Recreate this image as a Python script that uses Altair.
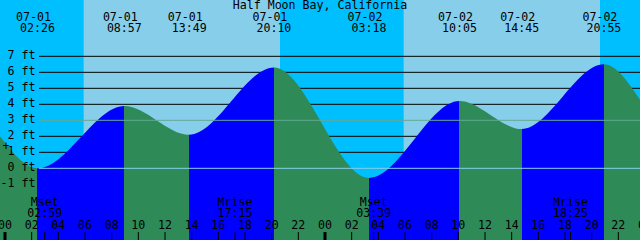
import altair as alt
import pandas as pd

# ---------------- data ----------------
title_text = "Half Moon Bay, California"

# tide extremes (day index 0 = 07-01, 1 = 07-02)
ext_days = [0, 0, 0, 0, 1, 1, 1, 1]
ext_dates = ["07-01", "07-01", "07-01", "07-01", "07-02", "07-02", "07-02", "07-02"]
ext_times = ["02:26", "08:57", "13:49", "20:10", "03:18", "10:05", "14:45", "20:55"]
ext_ft = [0.0, 3.9, 2.1, 6.3, -0.6, 4.2, 2.45, 6.5]

# tide level read at the left and right edges of the picture
edge_hours = [-0.375, 47.625]
edge_ft = [2.0, 4.3]

# sun
sun_days = [0, 1]
sunrise = ["05:55", "05:55"]
sunset = ["20:37", "20:37"]

# moon
moon_days = [0, 0, 1, 1]
moon_labels = ["Mset", "Mrise", "Mset", "Mrise"]
moon_times = ["02:59", "17:15", "03:39", "18:25"]

depth_levels = [7, 6, 5, 4, 3, 2, 1, 0, -1]
black_levels = [7, 6, 5, 4, 2, 1, -1]
datum_level = [0]
msl_level = [3]
hour_marks = list(range(0, 50, 2))
marker_hours = [0.07]
marker_ft = [1.36]

y_domain = [-4.48, 10.52]

FONT = "DejaVu Sans Mono"
FS = 11.6
DAY_C, NIGHT_C = "#87ceeb", "#00bfff"
FLOOD_C, EBB_C = "#0000ff", "#2e8b57"


def hrs(day, t):
    hh, mm = t.split(":")
    return day * 24 + int(hh) + int(mm) / 60


x0, x1 = edge_hours
xs = alt.Scale(domain=[x0, x1], nice=False, zero=False)
ys = alt.Scale(domain=y_domain, nice=False, zero=False)

# background bands
rise_h = [hrs(d, t) for d, t in zip(sun_days, sunrise)]
set_h = [hrs(d, t) for d, t in zip(sun_days, sunset)]
bands = pd.DataFrame({
    "start": [x0, rise_h[0], set_h[0], rise_h[1], set_h[1]],
    "end": [rise_h[0], set_h[0], rise_h[1], set_h[1], x1],
    "kind": ["night", "day", "night", "day", "night"],
})
bg = alt.Chart(bands).mark_rect().encode(
    x=alt.X("start:Q", scale=xs, axis=None),
    x2="end:Q",
    y=alt.value(0), y2=alt.value(240),
    color=alt.Color("kind:N", scale=alt.Scale(domain=["day", "night"], range=[DAY_C, NIGHT_C]), legend=None),
)

grid = alt.Chart(pd.DataFrame({"lv": black_levels})).mark_rule(color="black", strokeWidth=1).encode(
    y=alt.Y("lv:Q", scale=ys, axis=None), x=alt.value(39), x2=alt.value(640)
)

# tide curve
ext_h = [hrs(d, t) for d, t in zip(ext_days, ext_times)]
tide_h = [edge_hours[0]] + ext_h + [edge_hours[1]]
tide_v = [edge_ft[0]] + ext_ft + [edge_ft[1]]
tide = pd.DataFrame({"h": tide_h, "ft": tide_v})

stops = []
for i in range(len(tide_h) - 1):
    c = FLOOD_C if tide_v[i + 1] > tide_v[i] else EBB_C
    o0 = (tide_h[i] - x0) / (x1 - x0)
    o1 = (tide_h[i + 1] - x0) / (x1 - x0)
    stops.append(alt.GradientStop(offset=max(0.0, min(1.0, o0)), color=c))
    stops.append(alt.GradientStop(offset=max(0.0, min(1.0, o1)), color=c))

area = alt.Chart(tide).mark_area(
    interpolate="monotone",
    color=alt.Gradient(gradient="linear", stops=stops, x1=0, x2=1, y1=0, y2=0),
).encode(
    x=alt.X("h:Q", scale=xs, axis=None),
    y=alt.Y("ft:Q", scale=ys, axis=None),
    y2=alt.datum(y_domain[0]),
)

datum_line = alt.Chart(pd.DataFrame({"lv": datum_level})).mark_rule(color="#87ceeb", strokeWidth=1).encode(
    y=alt.Y("lv:Q", scale=ys, axis=None), x=alt.value(39), x2=alt.value(640)
)
msl_line = alt.Chart(pd.DataFrame({"lv": msl_level})).mark_rule(color="#62a892", strokeWidth=1).encode(
    y=alt.Y("lv:Q", scale=ys, axis=None), x=alt.value(39), x2=alt.value(640)
)

txt = dict(font=FONT, fontSize=FS, color="black", baseline="middle")

title = alt.Chart(pd.DataFrame({"t": [title_text]})).mark_text(**txt, align="center").encode(
    x=alt.value(320), y=alt.value(6), text="t:N"
)

ext_df = pd.DataFrame({"h": ext_h, "date": ext_dates, "time": ext_times})
ext_date_txt = alt.Chart(ext_df).mark_text(**txt, align="center", dx=-4).encode(
    x=alt.X("h:Q", scale=xs, axis=None), y=alt.value(17.5), text="date:N"
)
ext_time_txt = alt.Chart(ext_df).mark_text(**txt, align="center").encode(
    x=alt.X("h:Q", scale=xs, axis=None), y=alt.value(29), text="time:N"
)

depth_df = pd.DataFrame({"lv": depth_levels, "lab": [f"{v} ft" for v in depth_levels]})
depth_txt = alt.Chart(depth_df).mark_text(**txt, align="right").encode(
    x=alt.value(35.5), y=alt.Y("lv:Q", scale=ys, axis=None), text="lab:N"
)

moon_h = [hrs(d, t) for d, t in zip(moon_days, moon_times)]
moon_df = pd.DataFrame({"h": moon_h, "lab": moon_labels, "time": moon_times})
moon_lab = alt.Chart(moon_df).mark_text(**txt, align="center").encode(
    x=alt.X("h:Q", scale=xs, axis=None), y=alt.value(202.5), text="lab:N"
)
moon_time = alt.Chart(moon_df).mark_text(**txt, align="center").encode(
    x=alt.X("h:Q", scale=xs, axis=None), y=alt.value(214), text="time:N"
)

hour_df = pd.DataFrame({"h": hour_marks, "lab": [f"{h % 24:02d}" for h in hour_marks],
                        "mid": [h % 24 == 0 for h in hour_marks]})
hour_txt = alt.Chart(hour_df).mark_text(**txt, align="center").encode(
    x=alt.X("h:Q", scale=xs, axis=None), y=alt.value(225.5), text="lab:N"
)
hour_ticks = alt.Chart(hour_df).mark_rule(color="black").encode(
    x=alt.X("h:Q", scale=xs, axis=None), y=alt.value(232), y2=alt.value(240),
    strokeWidth=alt.condition("datum.mid", alt.value(3), alt.value(1)),
)
moon_ticks = alt.Chart(moon_df).mark_rule(color="black", strokeWidth=1).encode(
    x=alt.X("h:Q", scale=xs, axis=None), y=alt.value(232), y2=alt.value(240)
)

marker = alt.Chart(pd.DataFrame({"h": marker_hours, "ft": marker_ft, "t": ["+"]})).mark_text(
    **txt, align="center"
).encode(x=alt.X("h:Q", scale=xs, axis=None), y=alt.Y("ft:Q", scale=ys, axis=None), text="t:N")

chart = alt.layer(
    bg, grid, area, datum_line, msl_line, title, ext_date_txt, ext_time_txt,
    depth_txt, moon_lab, moon_time, hour_txt, hour_ticks, moon_ticks, marker,
).properties(
    width=640, height=240, padding=0, autosize=alt.AutoSizeParams(type="none")
).configure_view(stroke=None)

chart.save("out.html", embed_options={"renderer": "svg", "actions": False})
